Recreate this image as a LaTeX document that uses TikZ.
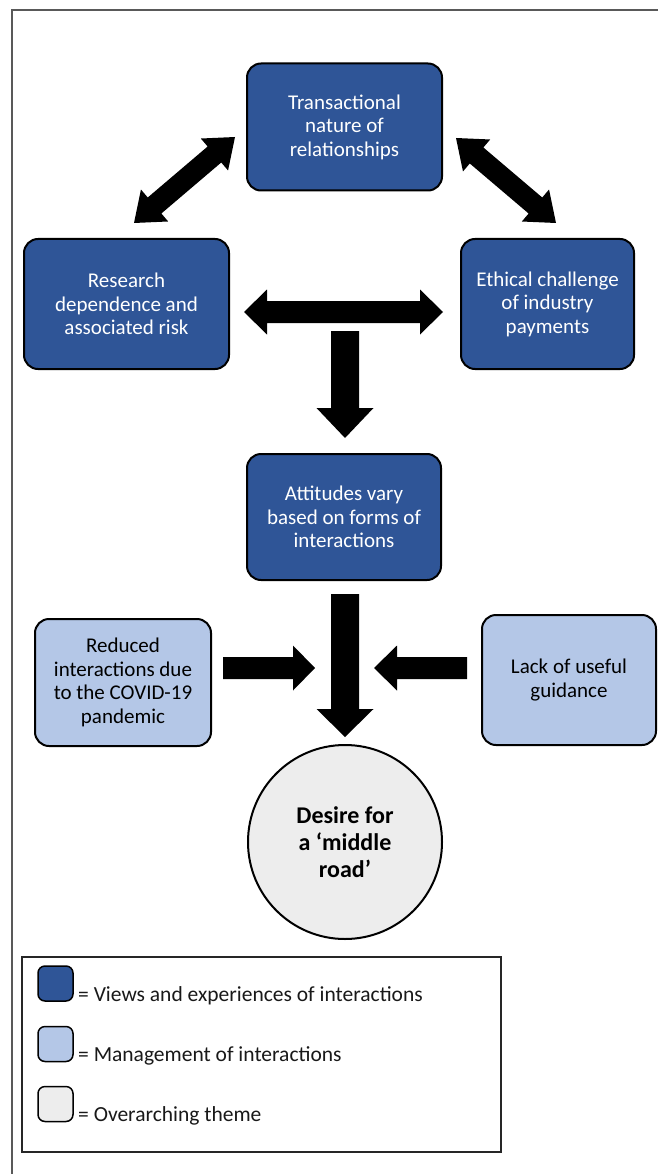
\documentclass[tikz,border=0pt]{standalone}
\usepackage{fontspec}
\setmainfont{Carlito}
\usetikzlibrary{calc}
\definecolor{darkbox}{HTML}{2F5597}
\definecolor{lightbox}{HTML}{B4C7E7}
\definecolor{greybox}{HTML}{EDEDED}
\definecolor{framegrey}{HTML}{595959}
\newcommand\blockarrowone[5]{%
  \coordinate (sa-h) at ($(#2)!#5!(#1)$);
  \fill[black] ($(#1)!#3!90:(#2)$) -- ($(sa-h)!#3!90:(#2)$) -- ($(sa-h)!#4!90:(#2)$) -- (#2) -- ($(sa-h)!#4!-90:(#2)$) -- ($(sa-h)!#3!-90:(#2)$) -- ($(#1)!#3!-90:(#2)$) -- cycle;}
\newcommand\blockarrowtwo[5]{%
  \coordinate (da-a) at ($(#1)!#5!(#2)$);
  \coordinate (da-b) at ($(#2)!#5!(#1)$);
  \fill[black] (#1) -- ($(da-a)!#4!90:(#2)$) -- ($(da-a)!#3!90:(#2)$) -- ($(da-b)!#3!90:(#2)$) -- ($(da-b)!#4!90:(#2)$) -- (#2) -- ($(da-b)!#4!-90:(#2)$) -- ($(da-b)!#3!-90:(#2)$) -- ($(da-a)!#3!-90:(#2)$) -- ($(da-a)!#4!-90:(#2)$) -- cycle;}
\begin{document}
\begin{tikzpicture}[x=1pt,y=-1pt,
  base/.style={draw=black, line width=2pt, rounded corners=14pt, align=center, inner sep=0pt, font=\fontsize{21}{23.5}\selectfont},
  darkn/.style={base, fill=darkbox, text=white},
  lightn/.style={base, fill=lightbox, text=black},
  swatch/.style={draw=black, line width=1.5pt, rounded corners=7pt, minimum size=35pt, inner sep=0pt},
  legtext/.style={anchor=base west, inner sep=0pt, text=black!90, font=\fontsize{21.5}{24}\selectfont}]
\useasboundingbox (0,0) rectangle (658,1174);
\fill[white] (0,0) rectangle (658,1174);
% outer frame (cut at right and bottom)
\draw[framegrey, line width=2pt] (12,1174) -- (12,10.5) -- (658,10.5);
% boxes
\node[darkn, minimum width=195pt, minimum height=127pt] (T) at (344.5,127) {Transactional\\nature of\\relationships};
\node[darkn, minimum width=205pt, minimum height=130pt] (R) at (126.5,304) {Research\\dependence and\\associated risk};
\node[darkn, minimum width=173pt, minimum height=130pt] (E) at (547.5,304) {Ethical challenge\\of industry\\payments};
\node[darkn, minimum width=194pt, minimum height=126pt] (A) at (344,517) {Attitudes vary\\based on forms of\\interactions};
\node[lightn, minimum width=176pt, minimum height=127pt] (L) at (123,682.5) {Reduced\\interactions due\\to the COVID-19\\pandemic};
\node[lightn, minimum width=174pt, minimum height=130pt] (G) at (569,680) {Lack of useful\\guidance};
\node[circle, draw=black, line width=2pt, fill=greybox, minimum size=194pt, inner sep=0pt, align=center, font=\bfseries\fontsize{24}{27}\selectfont] (D) at (345,842) {Desire for\\a ‘middle\\road’};
% arrow end points
\coordinate (a1s) at (235,137); \coordinate (a1e) at (134,223);
\coordinate (a2s) at (456,138); \coordinate (a2e) at (556,223);
\coordinate (a3s) at (244,312); \coordinate (a3e) at (443,312);
\coordinate (a4s) at (345,331); \coordinate (a4e) at (345,438);
\coordinate (a5s) at (345,594); \coordinate (a5e) at (345,737);
\coordinate (a6s) at (223,668); \coordinate (a6e) at (315,668);
\coordinate (a7s) at (467,668); \coordinate (a7e) at (374,668);
\blockarrowtwo{a1s}{a1e}{10.5pt}{21pt}{27pt}
\blockarrowtwo{a2s}{a2e}{10.5pt}{21pt}{27pt}
\blockarrowtwo{a3s}{a3e}{11pt}{22.5pt}{23pt}
\blockarrowone{a4s}{a4e}{14pt}{28.5pt}{30pt}
\blockarrowone{a5s}{a5e}{14pt}{28.5pt}{28pt}
\blockarrowone{a6s}{a6e}{11pt}{22.5pt}{22pt}
\blockarrowone{a7s}{a7e}{11pt}{22.5pt}{23pt}
% legend
\draw[black!85, line width=1.3pt] (22,957) rectangle (501,1152);
\node[swatch, fill=darkbox] (s1) at (55.5,983.5) {};
\node[swatch, fill=lightbox] (s2) at (55.5,1044) {};
\node[swatch, fill=greybox] (s3) at (55.5,1104) {};
\node[legtext] (t1) at (78,1001.5) {= Views and experiences of interactions};
\node[legtext] (t2) at (78,1061.5) {= Management of interactions};
\node[legtext] (t3) at (78,1121) {= Overarching theme};
\end{tikzpicture}
\end{document}
